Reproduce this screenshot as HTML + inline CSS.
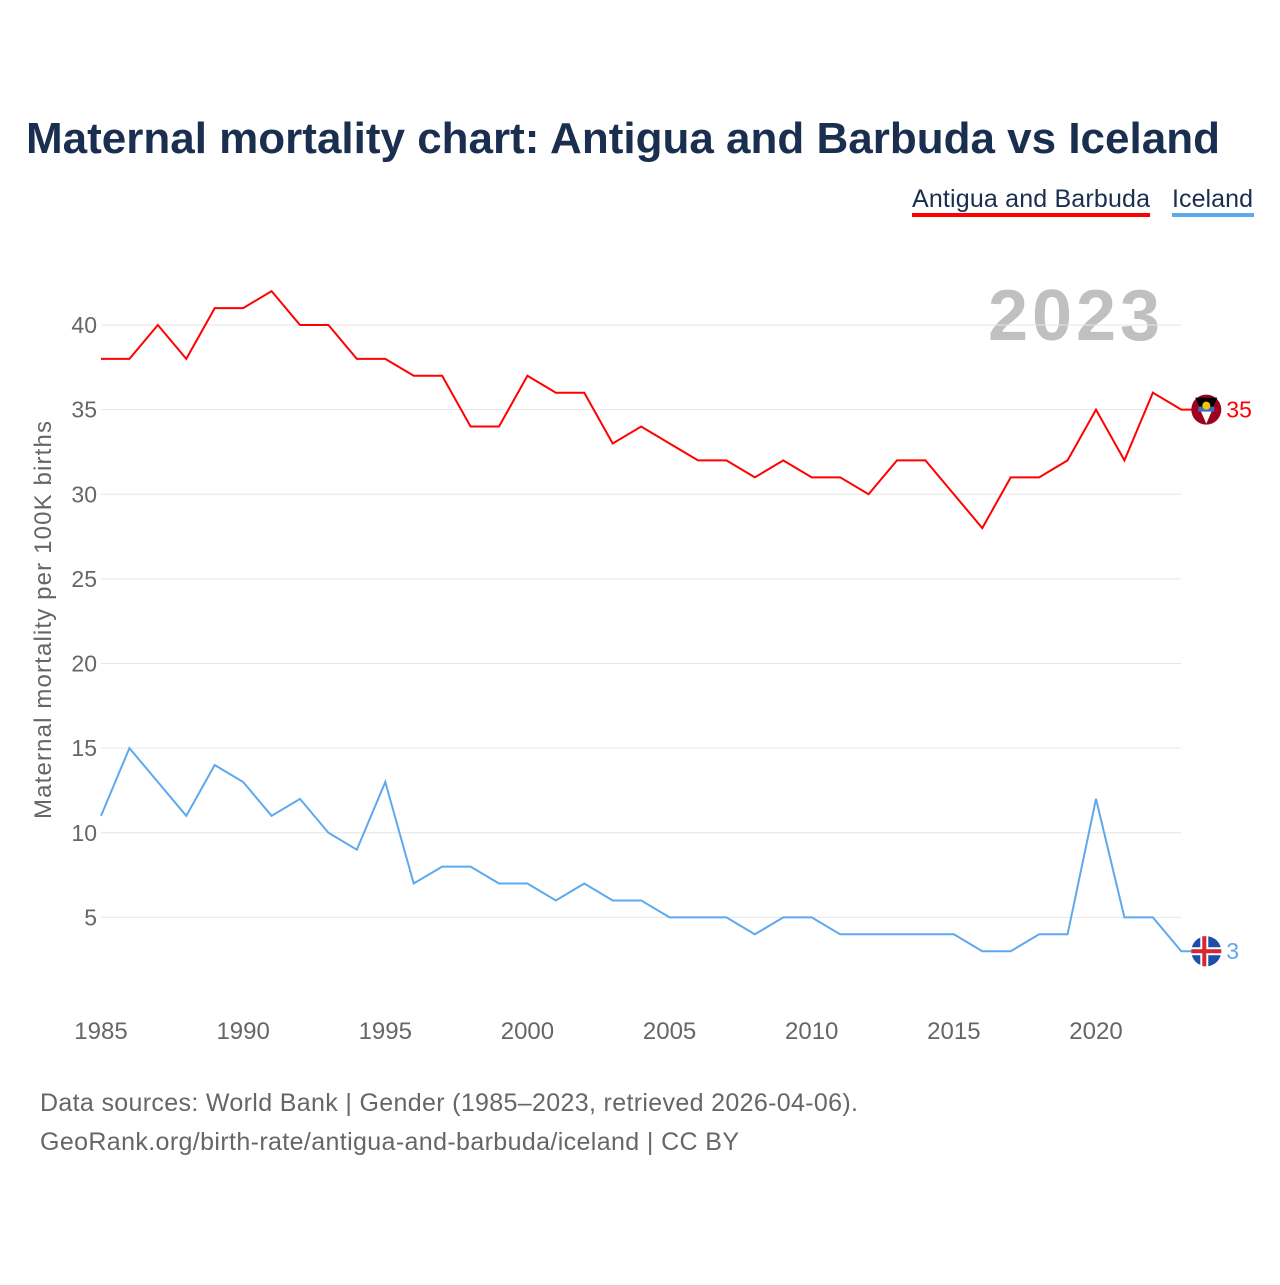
<!DOCTYPE html>
<html><head><meta charset="utf-8"><style>
body{margin:0;background:#fff;font-family:"Liberation Sans",sans-serif}
</style></head><body>
<svg width="1280" height="1280" xmlns="http://www.w3.org/2000/svg">
<text x="26" y="153" font-size="44" font-weight="bold" fill="#1a2e4f">Maternal mortality chart: Antigua and Barbuda vs Iceland</text>
<g>
<text x="912" y="207" font-size="25" fill="#1a2e4f" textLength="238">Antigua and Barbuda</text>
<rect x="912" y="213" width="238" height="4" fill="#ff0000"/></g>
<g>
<text x="1172" y="207" font-size="25" fill="#1a2e4f" textLength="81">Iceland</text>
<rect x="1172" y="213" width="82" height="4" fill="#5ea8ee"/></g>
<text x="1160" y="340" font-size="72" font-weight="bold" fill="#c0c0c0" text-anchor="end" textLength="172">2023</text>
<text transform="translate(51,620) rotate(-90)" font-size="24" fill="#666" text-anchor="middle" textLength="398">Maternal mortality per 100K births</text>
<g id="grid"></g><g id="ticks"></g><g id="lines"></g>
<text x="40" y="1111" font-size="25" fill="#666" textLength="818">Data sources: World Bank | Gender (1985–2023, retrieved 2026-04-06).</text>
<text x="40" y="1150" font-size="25" fill="#666" textLength="699">GeoRank.org/birth-rate/antigua-and-barbuda/iceland | CC BY</text>
</svg>
<script>
const years=[];for(let y=1985;y<=2023;y++)years.push(y);
const antigua=[38,38,40,38,41,41,42,40,40,38,38,37,37,34,34,37,36,36,33,34,33,32,32,31,32,31,31,30,32,32,30,28,31,31,32,35,32,36,35];
const iceland=[11,15,13,11,14,13,11,12,10,9,13,7,8,8,7,7,6,7,6,6,5,5,5,4,5,5,4,4,4,4,4,3,3,4,4,12,5,5,3];
const yTicks=[5,10,15,20,25,30,35,40];
const xTicks=[1985,1990,1995,2000,2005,2010,2015,2020];
const NS="http://www.w3.org/2000/svg";
const X=v=>101+(v-1985)*(995/35);
const Y=v=>1002-v*16.925;
function mk(t,a,p){const e=document.createElementNS(NS,t);for(const k in a)e.setAttribute(k,a[k]);p.appendChild(e);return e;}
const grid=document.getElementById('grid'),ticks=document.getElementById('ticks'),lines=document.getElementById('lines');
yTicks.forEach(v=>{
 const l=mk('line',{x1:101,x2:1181,y1:Y(v),y2:Y(v),stroke:'#e6e6e6','stroke-width':1},grid);
 
 
 const t=mk('text',{x:97,y:Y(v)+8,'font-size':23,fill:'#666','text-anchor':'end'},ticks);
 t.textContent=v;
 
 
});
xTicks.forEach(v=>{
 const t=mk('text',{x:X(v),y:1039,'font-size':24,fill:'#666','text-anchor':'middle'},ticks);
 t.textContent=v;
 
 
});
function series(data,color,name,flag){
 const last=data[data.length-1];
 let d=data.map((v,i)=>(i?'L':'M')+X(years[i])+','+Y(v)).join(' ');
 d+=' L'+(X(2023)+25)+','+Y(last);
 const p=mk('path',{d:d,fill:'none',stroke:color,'stroke-width':2},lines);
 
 
 const cx=X(2023)+25,cy=Y(last);
 const g=mk('g',{},lines);
 
 
 flag(g,cx,cy);
 const t=mk('text',{x:cx+20,y:cy+8,'font-size':23,fill:color},lines);
 t.textContent=last;
 
 
}
series(antigua,'#ff0000','antigua',(g,cx,cy)=>{
 mk('circle',{cx:cx,cy:cy,r:15,fill:'#a00020'},g);
 mk('path',{d:`M${cx-11},${cy-12} L${cx+11},${cy-12} L${cx},${cy+14} Z`,fill:'#000'},g);
 mk('path',{d:`M${cx-7},${cy-2} L${cx+7},${cy-2} L${cx},${cy+14} Z`,fill:'#fff'},g);
 mk('rect',{x:cx-8,y:cy-3,width:16,height:5,fill:'#3b6fc4'},g);
 mk('circle',{cx:cx,cy:cy-4,r:4,fill:'#f5c400'},g);
});
series(iceland,'#5ea8ee','iceland',(g,cx,cy)=>{
 mk('circle',{cx:cx,cy:cy,r:15,fill:'#1e4fa8'},g);
 mk('rect',{x:cx-15,y:cy-4,width:30,height:8,fill:'#fff'},g);
 mk('rect',{x:cx-6,y:cy-15,width:8,height:30,fill:'#fff'},g);
 mk('rect',{x:cx-15,y:cy-2,width:30,height:4,fill:'#d7282f'},g);
 mk('rect',{x:cx-4,y:cy-15,width:4,height:30,fill:'#d7282f'},g);
});
</script>
</body></html>
